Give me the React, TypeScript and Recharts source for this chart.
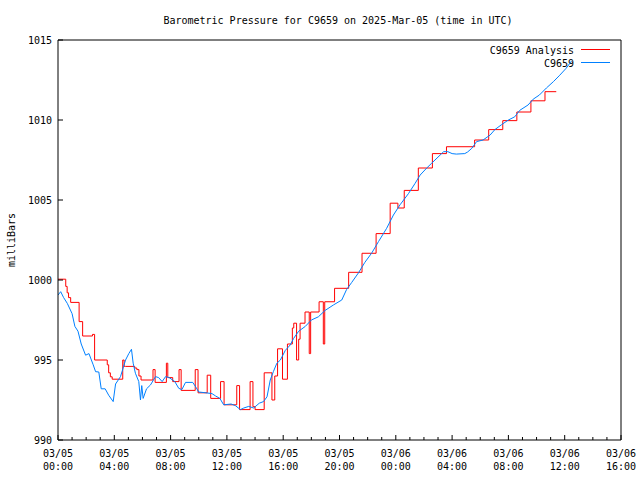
import { LineChart, Line, XAxis, YAxis, Customized } from "recharts";

// hours since 03/05 00:00 UTC
const hourTicks = Array.from({ length: 41 }, (_, i) => i);
const dateLabels = ["03/05", "03/05", "03/05", "03/05", "03/05", "03/05", "03/06", "03/06", "03/06", "03/06", "03/06"];
const timeLabels = ["00:00", "04:00", "08:00", "12:00", "16:00", "20:00", "00:00", "04:00", "08:00", "12:00", "16:00"];
const pressureTicks = [990, 995, 1000, 1005, 1010, 1015];

// C9659 Analysis (step values, held until next point)
const analysisHours = [
  0, 0.55, 0.65, 0.75, 0.9, 1.5, 1.75, 2.45, 2.6, 3.5, 3.6, 3.72, 3.85,
  4.6, 4.7, 4.8, 5.45, 5.6, 5.75, 5.9, 6.75, 6.9, 7.7, 7.8, 8.15,
  8.6, 8.75, 9.75, 9.95, 10.6, 10.85, 11.55, 11.8, 12.7, 12.9,
  13.65, 13.85, 14.0, 14.65, 15.2, 15.4, 15.6, 15.95, 16.3, 16.65, 16.75, 16.95, 17.1, 17.2,
  17.55, 17.85, 17.95, 18.55, 18.85, 18.95, 19.65, 20.65, 21.6, 22.6, 23.6, 24.15,
  24.6, 25.6, 26.6, 27.6, 29.6, 30.6, 31.6, 32.6, 33.6, 34.6, 35.4,
];
const analysisValues = [
  1000.05, 999.6, 999.2, 998.9, 998.6, 997.4, 996.5, 996.6, 995.0, 994.7, 994.2, 993.95, 993.8,
  995.0, 994.6, 994.6, 994.5, 994.4, 994.0, 993.75, 994.4, 993.6, 994.8, 993.9, 993.65,
  994.4, 993.1, 994.4, 992.95, 994.05, 992.6, 993.65, 992.2, 993.4, 991.9,
  993.65, 992.08, 991.9, 994.2, 992.5, 994.0, 995.7, 993.8, 996.0, 997.0, 997.3, 995.0, 996.3, 997.3,
  998.0, 995.4, 998.0, 998.64, 996.0, 998.64, 999.48, 1000.48, 1001.67, 1002.9, 1004.8, 1004.5,
  1005.6, 1007.0, 1007.9, 1008.33, 1008.75, 1009.4, 1009.96, 1010.5, 1011.2, 1011.77, 1011.77,
];

// C9659 observations
const obsHours = [
  0, 0.19, 0.4, 0.66, 1.0, 1.2, 1.42, 1.65, 1.96, 2.2, 2.5, 2.67, 2.9, 3.07, 3.35, 3.6, 3.92,
  4.09, 4.44, 4.8, 5.03, 5.22, 5.34, 5.5, 5.74, 5.86, 5.95, 6.05, 6.29, 6.57, 6.93, 7.15, 7.4,
  7.64, 7.9, 8.3, 8.58, 8.8, 9.06, 9.57, 9.8, 10.0, 10.5, 10.94, 11.2, 11.5, 11.77, 12.3, 12.6,
  12.96, 13.2, 13.55, 13.9, 14.3, 14.6, 14.85, 15.08, 15.3, 15.55, 15.8, 16.15, 16.5, 16.74,
  17.1, 17.57, 18.0, 18.5, 18.98, 19.57, 20.16, 20.5, 20.87, 21.35, 21.8, 22.3, 22.77, 23.35,
  23.83, 24.3, 24.9, 25.37, 25.73, 26.2, 26.55, 27.14, 27.4, 27.7, 28.0, 28.3, 28.9, 29.1,
  29.4, 29.74, 30.2, 30.7, 31.04, 31.5, 32.0, 32.45, 32.8, 33.4, 33.76, 34.2, 34.7, 35.2,
  35.65, 36.1, 36.5,
];
const obsValues = [
  999.06, 999.27, 998.9, 998.54, 997.9, 997.1, 996.8, 996.0, 995.3, 995.4, 994.7, 994.27, 994.25, 993.2, 993.2, 992.8, 992.4,
  993.5, 993.96, 995.0, 995.4, 995.67, 994.8, 994.17, 993.65, 992.5, 993.4, 992.6, 993.2, 993.44, 993.96, 993.9, 993.65,
  993.96, 993.9, 993.65, 993.23, 993.15, 993.6, 993.6, 993.3, 993.0, 992.95, 992.9, 992.75, 992.6, 992.2, 992.25, 992.15,
  991.9, 992.0, 992.1, 992.0, 992.3, 992.4, 992.7, 993.75, 994.27, 994.8, 995.0, 995.6, 995.94, 996.35,
  996.8, 997.1, 997.5, 997.7, 998.1, 998.44, 998.75, 999.4, 999.85, 1000.45, 1001.1, 1001.7, 1002.4, 1003.23,
  1004.06, 1004.7, 1005.4, 1006.04, 1006.56, 1007.0, 1007.3, 1007.8, 1008.02, 1008.02, 1007.9, 1007.87, 1007.9, 1008.0,
  1008.23, 1008.65, 1008.75, 1009.06, 1009.4, 1009.7, 1010.0, 1010.2, 1010.6, 1010.94, 1011.3, 1011.56, 1012.0, 1012.4,
  1012.8, 1013.23, 1013.7,
];

const analysis = analysisHours.map((h, i) => ({ h, p: analysisValues[i] }));
const observed = obsHours.map((h, i) => ({ h, p: obsValues[i] }));

const FONT = "'DejaVu Sans Mono', monospace";
const RED = "#ff0000";
const BLUE = "#0080ff";

const BottomTick = (props: any) => {
  const { x, y, payload } = props;
  const v = payload.value;
  const major = v % 4 === 0;
  return (
    <g>
      <line x1={x} x2={x} y1={y} y2={y - (major ? 5 : 3)} stroke="#000" />
      {major && (
        <text x={x} y={y + 17} textAnchor="middle" fontFamily={FONT} fontSize={10} fill="#000">
          <tspan x={x}>{dateLabels[v / 4]}</tspan>
          <tspan x={x} dy={12.5}>{timeLabels[v / 4]}</tspan>
        </text>
      )}
    </g>
  );
};

const TopTick = (props: any) => {
  const { x, y, payload } = props;
  const major = payload.value % 4 === 0;
  return <line x1={x} x2={x} y1={y} y2={y + (major ? 5 : 3)} stroke="#000" />;
};

const LeftTick = (props: any) => {
  const { x, y, payload } = props;
  return (
    <g>
      <line x1={x} x2={x + 5} y1={y} y2={y} stroke="#000" />
      <text x={x - 6} y={y + 4} textAnchor="end" fontFamily={FONT} fontSize={10} fill="#000">
        {payload.value}
      </text>
    </g>
  );
};

const RightTick = (props: any) => {
  const { x, y } = props;
  return <line x1={x} x2={x - 5} y1={y} y2={y} stroke="#000" />;
};

const Labels = () => (
  <g fontFamily={FONT} fontSize={10} fill="#000">
    <text x={338} y={24} textAnchor="middle">
      Barometric Pressure for C9659 on 2025-Mar-05 (time in UTC)
    </text>
    <text x={15} y={240} textAnchor="middle" transform="rotate(-90 15 240)">
      milliBars
    </text>
    <text x={574} y={53.5} textAnchor="end">C9659 Analysis</text>
    <line x1={581} x2={610} y1={49.5} y2={49.5} stroke={RED} />
    <text x={574} y={66.5} textAnchor="end">C9659</text>
    <line x1={581} x2={610} y1={62.5} y2={62.5} stroke={BLUE} />
  </g>
);

export default function App() {
  return (
    <div style={{ position: "absolute", left: 0, top: 0, background: "#fff" }}>
      <LineChart width={640} height={480} margin={{ top: 39, right: 18, left: 0, bottom: 0 }}>
        <XAxis
          xAxisId="b"
          type="number"
          dataKey="h"
          domain={[0, 40]}
          ticks={hourTicks}
          interval={0}
          height={40}
          tickSize={0}
          tickMargin={0}
          tick={BottomTick}
          axisLine={{ stroke: "#000" }}
          allowDataOverflow
        />
        <XAxis
          xAxisId="t"
          orientation="top"
          type="number"
          dataKey="h"
          domain={[0, 40]}
          ticks={hourTicks}
          interval={0}
          height={1}
          tickSize={0}
          tickMargin={0}
          tick={TopTick}
          axisLine={{ stroke: "#000" }}
        />
        <YAxis
          yAxisId="l"
          type="number"
          domain={[990, 1015]}
          ticks={pressureTicks}
          interval={0}
          width={58}
          tickSize={0}
          tickMargin={0}
          tick={LeftTick}
          axisLine={{ stroke: "#000" }}
          allowDataOverflow
        />
        <YAxis
          yAxisId="r"
          orientation="right"
          type="number"
          domain={[990, 1015]}
          ticks={pressureTicks}
          interval={0}
          width={1}
          tickSize={0}
          tickMargin={0}
          tick={RightTick}
          axisLine={{ stroke: "#000" }}
        />
        <Line
          xAxisId="b"
          yAxisId="l"
          data={analysis}
          dataKey="p"
          type="stepAfter"
          stroke={RED}
          strokeWidth={1}
          dot={false}
          isAnimationActive={false}
        />
        <Line
          xAxisId="b"
          yAxisId="l"
          data={observed}
          dataKey="p"
          type="linear"
          stroke={BLUE}
          strokeWidth={1}
          dot={false}
          isAnimationActive={false}
        />
        <Customized component={Labels} />
      </LineChart>
    </div>
  );
}
